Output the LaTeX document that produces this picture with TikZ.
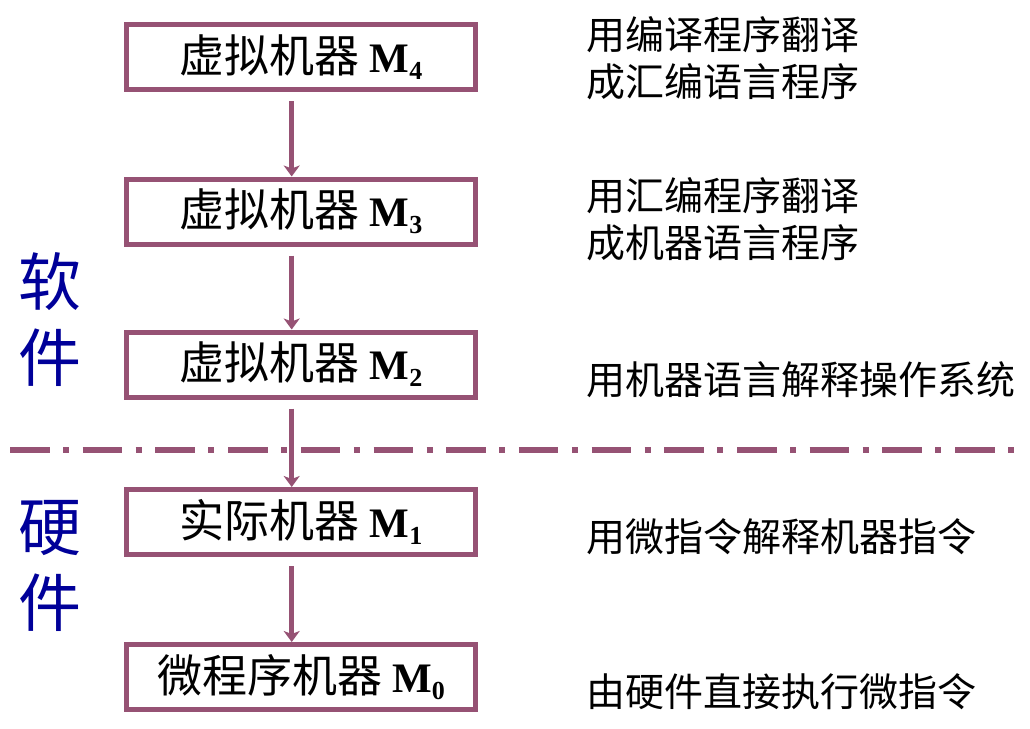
\documentclass[tikz,border=0pt]{standalone}
\usepackage{fontspec}
\setmainfont{Noto Sans CJK SC}
\newfontfamily\tnr{Liberation Serif}
\usetikzlibrary{arrows.meta}

\definecolor{plum}{RGB}{150,82,116}
\definecolor{deepblue}{RGB}{0,0,153}

\newcommand\mname[1]{{\fontsize{42}{50}\selectfont\tnr\bfseries M\raisebox{-7pt}{\fontsize{26}{26}\selectfont #1}}}

\tikzset{
  machine/.style={draw=plum,line width=5pt,minimum width=349pt,minimum height=65pt,
    inner sep=0pt,font=\fontsize{45}{50}\selectfont},
  note/.style={anchor=west,inner sep=0pt,align=left,font=\fontsize{39}{47}\selectfont},
  side/.style={inner sep=0pt,align=center,text=deepblue,font=\fontsize{63}{76}\selectfont},
  flow/.style={plum,line width=5pt,-{Stealth[length=11pt,width=16pt,inset=3pt]}}
}

\begin{document}
\begin{tikzpicture}[x=1pt,y=-1pt]
  \useasboundingbox (0,0) rectangle (1030,728);

  \node[machine] (m4) at (301,57)    {虚拟机器 \mname{4}};
  \node[machine] (m3) at (301,211.5) {虚拟机器 \mname{3}};
  \node[machine] (m2) at (301,364.5) {虚拟机器 \mname{2}};
  \node[machine] (m1) at (301,522)   {实际机器 \mname{1}};
  \node[machine] (m0) at (301,677)   {微程序机器 \mname{0}};

  % arrows, a bit left of the centre
  \draw[flow] ([xshift=-9.3pt,yshift=-9pt]m4.south) -- ([xshift=-9.3pt]m3.north);
  \draw[flow] ([xshift=-9.3pt,yshift=-9pt]m3.south) -- ([xshift=-9.3pt]m2.north);
  \draw[flow] ([xshift=-9.3pt,yshift=-9pt]m2.south) -- ([xshift=-9.3pt]m1.north);
  \draw[flow] ([xshift=-9.3pt,yshift=-9pt]m1.south) -- ([xshift=-9.3pt]m0.north);

  \node[note] (n4) at (586,58)  {用编译程序翻译\\成汇编语言程序};
  \node[note] (n3) at (586,219) {用汇编程序翻译\\成机器语言程序};
  \node[note] (n2) at (586,380) {用机器语言解释操作系统};
  \node[note] (n1) at (586,537) {用微指令解释机器指令};
  \node[note] (n0) at (586,692) {由硬件直接执行微指令};

  \node[side] (soft) at (50,320) {软\\件};
  \node[side] (hard) at (50,566) {硬\\件};

  % software / hardware border
  \coordinate (bl) at (10,450);
  \coordinate (br) at (1015,450);
  \draw[plum,line width=6pt,dash pattern=on 39.5pt off 13.5pt on 6pt off 13.7pt] (bl) -- (br);
\end{tikzpicture}
\end{document}
